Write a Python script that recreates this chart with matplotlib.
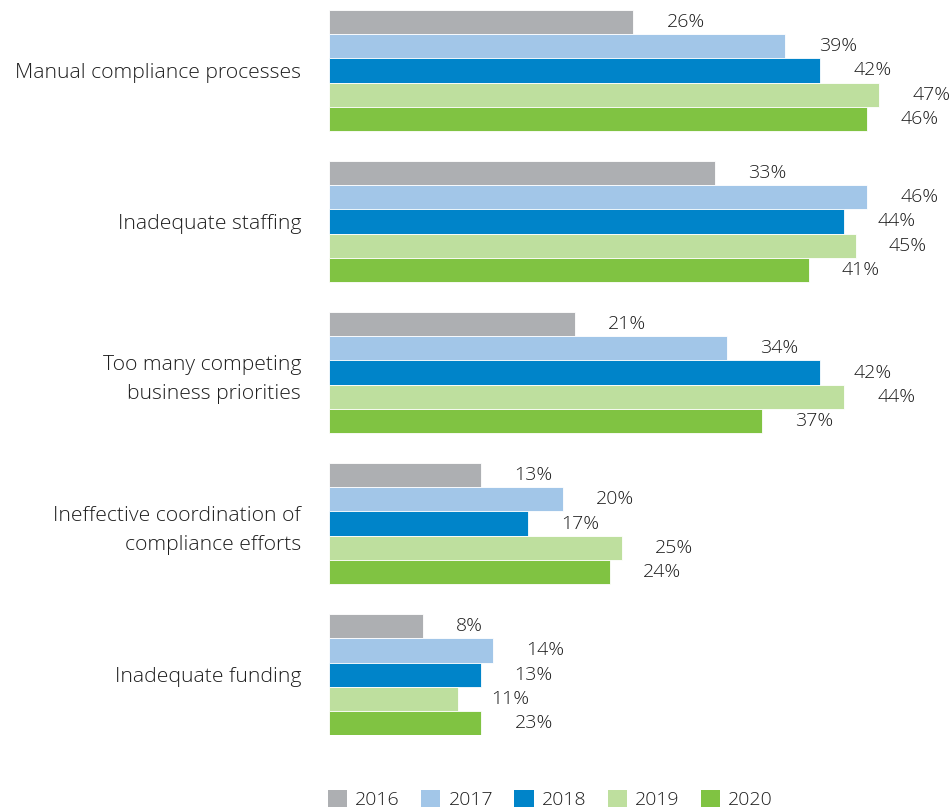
import matplotlib
matplotlib.use('Agg')
import numpy as np
import matplotlib.pyplot as plt
from matplotlib.patches import Patch

# ---------------------------------------------------------------------------
# Data
# ---------------------------------------------------------------------------
categories = [
    'Manual compliance processes',
    'Inadequate staffing',
    'Too many competing\nbusiness priorities',
    'Ineffective coordination of\ncompliance efforts',
    'Inadequate funding',
]
years = ['2016', '2017', '2018', '2019', '2020']
colors = ['#ADAFB2', '#A2C6E8', '#0084C9', '#BEDF9E', '#80C342']

# bar lengths as drawn (%)
v2016 = [26, 33, 21, 13, 8]
v2017 = [39, 46, 34, 20, 14]
v2018 = [42, 44, 42, 17, 13]
v2019 = [47, 45, 44, 25, 11]
v2020 = [46, 41, 37, 24, 13]
# labels as printed (the 2020 funding bar is labelled 23% in the source)
l2020 = ['46%', '41%', '37%', '24%', '23%']

series = [v2016, v2017, v2018, v2019, v2020]
labels = [[f'{v}%' for v in s] for s in series[:4]] + [l2020]

# ---------------------------------------------------------------------------
# Plot
# ---------------------------------------------------------------------------
plt.rcParams['font.family'] = ['Open Sans', 'DejaVu Sans']
TXT = '#1e1e1e'

W, H = 951, 811
fig = plt.figure(figsize=(W / 100, H / 100), dpi=100)
ax = fig.add_axes([329 / W, 1 - 735 / H, (W - 329) / W, 725 / H])

bh = 0.16
y = np.arange(len(categories))
for k, (vals, labs) in enumerate(zip(series, labels)):
    yy = y + (k - 2) * bh
    ax.barh(yy, vals, height=bh, color=colors[k], edgecolor='white', linewidth=0.6)
    for yi, v, t in zip(yy, vals, labs):
        ax.annotate(t, (v, yi), xytext=(24, 0), textcoords='offset points',
                    ha='left', va='center', fontsize=14, color=TXT,
                    fontweight='light')

ax.set_ylim(4.4, -0.4)
ax.set_xlim(0, 622 / 11.7)
ax.set_yticks(y)
ax.set_yticklabels(categories, fontsize=15.2, color=TXT, linespacing=1.6,
                   fontweight='light')
ax.tick_params(axis='y', length=0, pad=20)
ax.set_xticks([])
for s in ax.spines.values():
    s.set_visible(False)

handles = [Patch(facecolor=c, edgecolor='none') for c in colors]
leg = fig.legend(handles, years, loc='lower left', bbox_to_anchor=(328 / W, 2 / H),
                 ncol=5, frameon=False, fontsize=14, borderpad=0, borderaxespad=0,
                 handlelength=0.98, handleheight=0.98, handletextpad=0.42,
                 columnspacing=1.1, labelcolor=TXT)
for t in leg.get_texts():
    t.set_fontweight('light')

fig.savefig('out.png', dpi=100)
